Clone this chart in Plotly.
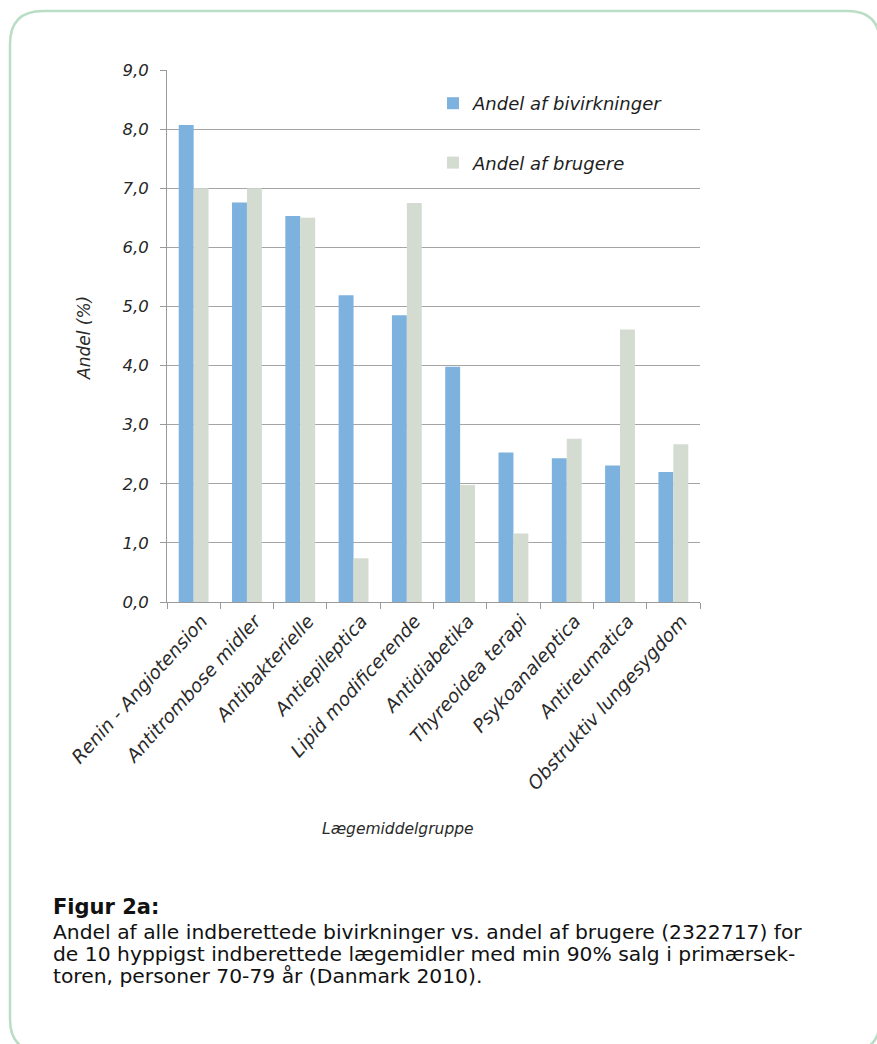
import plotly.graph_objects as go

categories = ["Renin - Angiotension", "Antitrombose midler", "Antibakterielle",
              "Antiepileptica", "Lipid modificerende", "Antidiabetika",
              "Thyreoidea terapi", "Psykoanaleptica", "Antireumatica",
              "Obstruktiv lungesygdom"]
andel_bivirkninger = [8.07, 6.76, 6.53, 5.19, 4.85, 3.98, 2.53, 2.43, 2.31, 2.20]
andel_brugere = [7.00, 7.00, 6.50, 0.74, 6.75, 1.98, 1.16, 2.76, 4.61, 2.67]
y_ticks = [0, 1, 2, 3, 4, 5, 6, 7, 8, 9]

W, H = 877, 1044
X0, X1, Y0, Y1 = 167, 700, 70, 602  # plot area in pixels


def px(x):
    return (x - X0) / (X1 - X0)


def py(y):
    return (Y1 - y) / (Y1 - Y0)


FONT = "DejaVu Sans, Verdana, sans-serif"

fig = go.Figure()
fig.add_trace(go.Bar(x=categories, y=andel_bivirkninger, name="Andel af bivirkninger",
                     marker=dict(color="#7DB2DF", line=dict(width=0)), legendgroup="a"))
fig.add_trace(go.Bar(x=categories, y=andel_brugere, name="Andel af brugere",
                     marker=dict(color="#D4DBD1", line=dict(width=0)), legendgroup="b"))

# rounded border
r = 33
bx0, by0, bx1, by1 = 10, 11, 880, 1052
path = (f"M {px(bx0+r)},{py(by0)} L {px(bx1-r)},{py(by0)} "
        f"Q {px(bx1)},{py(by0)} {px(bx1)},{py(by0+r)} "
        f"L {px(bx1)},{py(by1-r)} Q {px(bx1)},{py(by1)} {px(bx1-r)},{py(by1)} "
        f"L {px(bx0+r)},{py(by1)} Q {px(bx0)},{py(by1)} {px(bx0)},{py(by1-r)} "
        f"L {px(bx0)},{py(by0+r)} Q {px(bx0)},{py(by0)} {px(bx0+r)},{py(by0)} Z")
shapes = [
    dict(type="path", path=path, xref="paper", yref="paper",
         line=dict(color="#B9DDC5", width=2.5), layer="above"),
    # legend background covering gridlines
    dict(type="rect", xref="paper", yref="paper", x0=px(388), x1=px(702),
         y0=py(196), y1=py(78), fillcolor="white", line=dict(width=0), layer="between"),
]

caption_lines = [
    "Andel af alle indberettede bivirkninger vs. andel af brugere (2322717) for",
    "de 10 hyppigst indberettede lægemidler med min 90% salg i primærsek-",
    "toren, personer 70-79 år (Danmark 2010).",
]
caption_y = [932, 954, 976]

annotations = [
    dict(text="Lægemiddelgruppe", x=px(398), y=py(829), xref="paper", yref="paper",
         showarrow=False, xanchor="center", yanchor="middle",
         font=dict(family=FONT, size=15.5, color="#2a2a2a", style="italic")),
    dict(text="Andel (%)", x=px(84), y=py(338), xref="paper", yref="paper",
         showarrow=False, xanchor="center", yanchor="middle", textangle=-90,
         font=dict(family=FONT, size=17, color="#2a2a2a", style="italic")),
    dict(text="<b>Figur 2a:</b>", x=px(51), y=py(907), xref="paper", yref="paper",
         showarrow=False, xanchor="left", yanchor="middle",
         font=dict(family=FONT, size=21, color="#111111")),
]
for line, yy in zip(caption_lines, caption_y):
    annotations.append(dict(text=line, x=px(51), y=py(yy), xref="paper", yref="paper",
                            showarrow=False, xanchor="left", yanchor="middle",
                            font=dict(family=FONT, size=20.3, color="#111111")))

fig.update_layout(
    width=W, height=H,
    margin=dict(l=X0, r=W - X1, t=Y0, b=H - Y1, autoexpand=False),
    paper_bgcolor="white", plot_bgcolor="white",
    barmode="group", bargap=0.44, bargroupgap=0,
    separators=",.",
    showlegend=True,
    legend=dict(x=px(433), y=py(85), xanchor="left", yanchor="top",
                bgcolor="rgba(0,0,0,0)", traceorder="grouped", tracegroupgap=33,
                font=dict(family=FONT, size=18, color="#1e1e1e", style="italic"),
                itemwidth=30),
    shapes=shapes,
    annotations=annotations,
    xaxis=dict(type="category", tickson="boundaries", ticks="outside", ticklen=6,
               tickcolor="#9A9A9A", showline=True, linecolor="#9A9A9A", linewidth=1,
               tickangle=-48, showgrid=False, ticklabelshift=8,
               tickfont=dict(family=FONT, size=18.5, color="#2a2a2a", style="italic")),
    yaxis=dict(range=[0, 9], tickvals=y_ticks, tickformat=".1f", ticks="outside",
               ticklen=6, tickcolor="#9A9A9A", showline=True, linecolor="#9A9A9A",
               linewidth=1, showgrid=True, gridcolor="#A4A4A4", gridwidth=1,
               zeroline=False, ticklabelstandoff=8,
               tickfont=dict(family=FONT, size=16.5, color="#262626", style="italic")),
)

fig.write_html("out.html")
